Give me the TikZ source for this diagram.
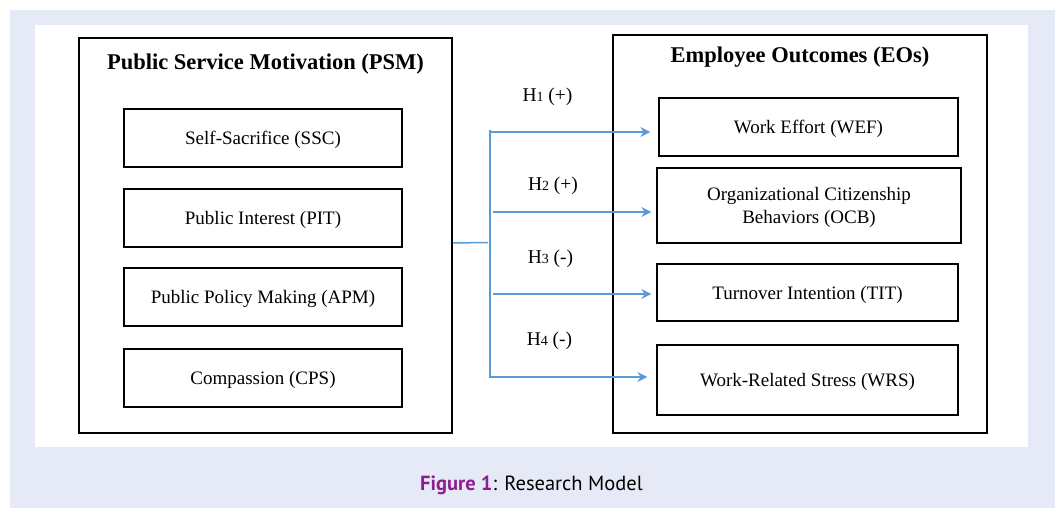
\documentclass[tikz,border=0pt]{standalone}
\usepackage{fontspec}
\setmainfont{Liberation Serif}
\newfontfamily\capfont{PT Sans}
\usetikzlibrary{arrows.meta}
\definecolor{bgblue}{RGB}{230,234,246}
\definecolor{lineblue}{RGB}{91,155,213}
\definecolor{figpurple}{RGB}{142,30,142}
\newcommand{\lowtext}[1]{\raisebox{-2pt}[\height][\depth]{#1}}
\begin{document}
\begin{tikzpicture}[x=1pt,y=-1pt,
  outerbox/.style={draw=black, line width=1.5pt, inner sep=0pt},
  itembox/.style={draw=black, line width=1.4pt, inner sep=0pt, align=center,
    font=\fontsize{19}{23}\selectfont},
  titletext/.style={anchor=base, inner sep=0pt, font=\fontsize{22.5}{26}\selectfont\bfseries},
  hlabel/.style={anchor=base, inner sep=0pt, font=\fontsize{19.5}{23}\selectfont},
  conn/.style={draw=lineblue, line width=1.5pt},
  arr/.style={conn, -{Stealth[length=10pt,width=10pt,inset=3.5pt]}}]
\useasboundingbox (0,0) rectangle (1058,508);
\fill[bgblue] (10,10) rectangle (1055,508);
\fill[white] (35,25) rectangle (1028,447);

% outer boxes
\node[outerbox, minimum width=373pt, minimum height=395pt] (psm) at (265.5,235.5) {};
\node[outerbox, minimum width=374pt, minimum height=398pt] (eos) at (800,234) {};
\node[titletext] (psmt) at (265.5,70) {Public Service Motivation (PSM)};
\node[titletext] (eost) at (800,63) {Employee Outcomes (EOs)};

% left items
\node[itembox, minimum width=278pt, minimum height=58pt] (ssc) at (263,138) {\lowtext{Self-Sacrifice (SSC)}};
\node[itembox, minimum width=278pt, minimum height=58pt] (pit) at (263,218) {\lowtext{Public Interest (PIT)}};
\node[itembox, minimum width=278pt, minimum height=58pt] (apm) at (263,297) {\lowtext{Public Policy Making (APM)}};
\node[itembox, minimum width=278pt, minimum height=58pt] (cps) at (263,378) {\lowtext{Compassion (CPS)}};

% right items
\node[itembox, minimum width=299pt, minimum height=58pt] (wef) at (808.5,127) {\lowtext{Work Effort (WEF)}};
\node[itembox, minimum width=304pt, minimum height=75pt] (ocb) at (809,205.5) {\lowtext{Organizational Citizenship}\\\lowtext{Behaviors (OCB)}};
\node[itembox, minimum width=301pt, minimum height=57pt] (tit) at (807.5,292.5) {\lowtext{Turnover Intention (TIT)}};
\node[itembox, minimum width=301pt, minimum height=70pt] (wrs) at (807.5,380) {\lowtext{Work-Related Stress (WRS)}};

% hypothesis labels
\node[hlabel] (h1) at (547.5,102) {H{\fontsize{14}{14}\selectfont 1} (+)};
\node[hlabel] (h2) at (553,190.5) {H{\fontsize{14}{14}\selectfont 2} (+)};
\node[hlabel] (h3) at (550.5,263) {H{\fontsize{14}{14}\selectfont 3} (-)};
\node[hlabel] (h4) at (549.5,345.5) {H{\fontsize{14}{14}\selectfont 4} (-)};

% connectors
\coordinate (feed) at (488,242.5);
\coordinate (ttop) at (490,130);
\coordinate (tbot) at (490,377.5);
\coordinate (a1) at (490,132);
\coordinate (a2) at (493,212);
\coordinate (a3) at (493,294);
\coordinate (a4) at (490,377);
\draw[conn] ([yshift=-7.5pt]psm.east) -- (feed);
\draw[conn] (ttop) -- (tbot);
\draw[arr, shorten >=8pt] (a1) -- (a1 -| wef.west);
\draw[arr, shorten >=5pt] (a2) -- (a2 -| ocb.west);
\draw[arr, shorten >=5pt] (a3) -- (a3 -| tit.west);
\draw[arr, shorten >=9pt] (a4) -- (a4 -| wrs.west);

% caption
\node[anchor=base, inner sep=0pt, font=\capfont\fontsize{20.5}{24}\selectfont] (cap) at (531.5,490)
  {\textcolor{figpurple}{\bfseries Figure 1}: Research Model};
\end{tikzpicture}
\end{document}
